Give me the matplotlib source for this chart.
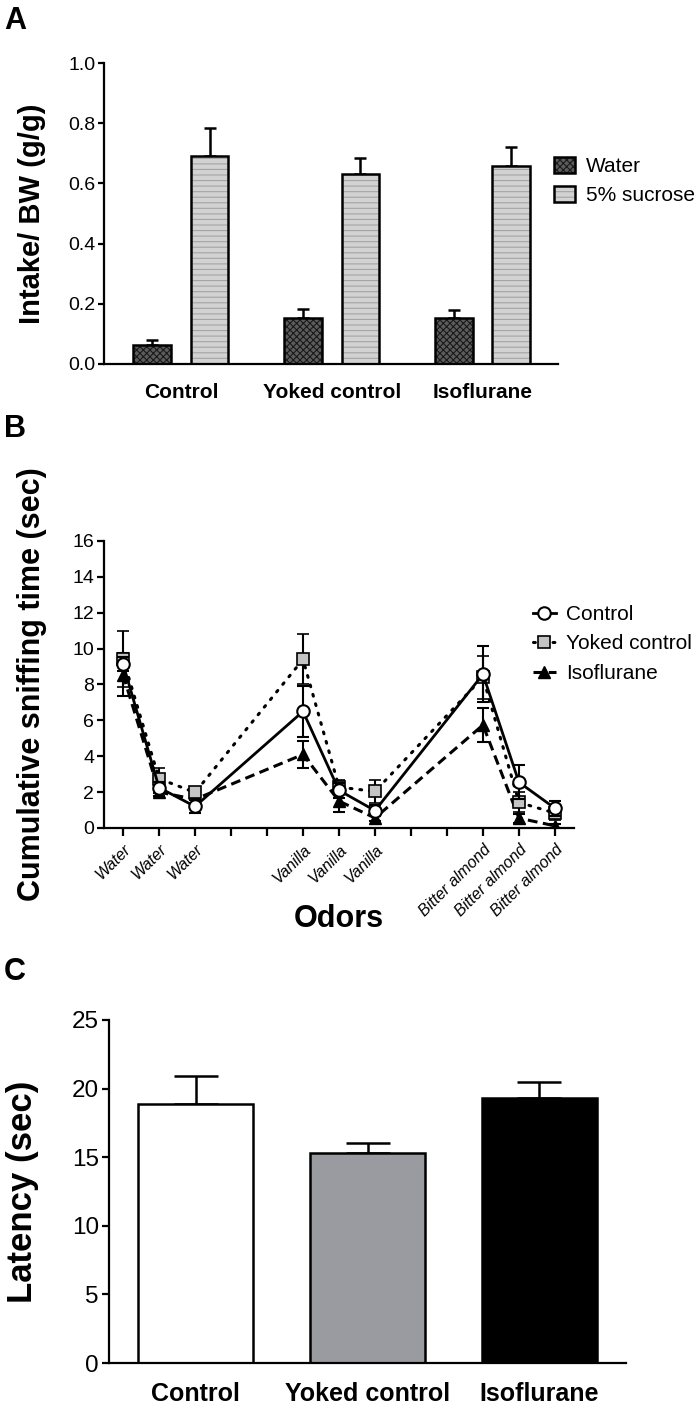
import numpy as np
import matplotlib
matplotlib.use('Agg')
import matplotlib.pyplot as plt
from matplotlib.lines import Line2D

plt.rcParams['font.family'] = ['Liberation Sans', 'DejaVu Sans']
plt.rcParams['hatch.linewidth'] = 0.8

# panel A data
groups_a = ['Control', 'Yoked control', 'Isoflurane']
water = [0.063, 0.154, 0.154]
water_err = [0.017, 0.028, 0.027]
sucrose = [0.690, 0.632, 0.657]
sucrose_err = [0.093, 0.054, 0.063]

# panel B data
odor_labels = ['Water', 'Water', 'Water', '', '', 'Vanilla', 'Vanilla', 'Vanilla',
               '', '', 'Bitter almond', 'Bitter almond', 'Bitter almond']
odor_pos = [0, 1, 2, 5, 6, 7, 10, 11, 12]
ctrl_b = [9.14, 2.25, 1.2, 6.5, 2.1, 0.97, 8.57, 2.55, 1.1]
ctrl_b_err = [0.4, 0.3, 0.36, 1.4, 0.4, 0.3, 1.55, 0.95, 0.42]
yoked_b = [9.44, 2.75, 1.98, 9.4, 2.28, 2.04, 8.4, 1.43, 0.83]
yoked_b_err = [1.56, 0.6, 0.3, 1.4, 0.37, 0.65, 1.2, 0.55, 0.4]
iso_b = [8.54, 2.0, 1.6, 4.1, 1.5, 0.56, 5.74, 0.55, 0.12]
iso_b_err = [1.2, 0.2, 0.3, 0.75, 0.6, 0.15, 0.95, 0.25, 0.12]

# panel C data
groups_c = ['Control', 'Yoked control', 'Isoflurane']
latency = [18.9, 15.3, 19.3]
latency_err = [2.05, 0.77, 1.2]
colors_c = ['white', '#999ba0', 'black']

fig = plt.figure(figsize=(7, 14.08), dpi=100)
W, H = 700, 1408


def box(l, t, r, b):
    return [l / W, 1 - b / H, (r - l) / W, (b - t) / H]


def clean(ax):
    ax.spines['top'].set_visible(False)
    ax.spines['right'].set_visible(False)
    ax.spines['left'].set_linewidth(1.6)
    ax.spines['bottom'].set_linewidth(1.6)


# ---------------- A ----------------
ax1 = fig.add_axes(box(104, 63, 558, 364))
clean(ax1)
x = np.arange(len(groups_a))
bw = 0.25
off = 0.19
zero = [0, 0, 0]
ax1.errorbar(x - off, water, yerr=[zero, water_err], fmt='none', ecolor='black',
             elinewidth=1.8, capsize=4.5, capthick=1.8, zorder=1)
ax1.errorbar(x + off, sucrose, yerr=[zero, sucrose_err], fmt='none', ecolor='black',
             elinewidth=1.8, capsize=4.5, capthick=1.8, zorder=1)
w_fill = ax1.bar(x - off, water, bw, color='#5c5c5c', edgecolor='#1a1a1a', hatch='xxxxx',
                 linewidth=0, zorder=2)
w_line = ax1.bar(x - off, water, bw, fill=False, edgecolor='black', linewidth=1.8, zorder=3)
s_fill = ax1.bar(x + off, sucrose, bw, color='#d2d2d2', edgecolor='#a4a4a4', hatch='---',
                 linewidth=0, zorder=2)
s_line = ax1.bar(x + off, sucrose, bw, fill=False, edgecolor='black', linewidth=1.8, zorder=3)
ax1.set_xlim(-0.51, 2.5)
ax1.set_ylim(0, 1.0)
ax1.set_yticks([0, 0.2, 0.4, 0.6, 0.8, 1.0])
ax1.set_yticklabels(['0.0', '0.2', '0.4', '0.6', '0.8', '1.0'])
ax1.set_xticks(x)
ax1.set_xticklabels(groups_a, fontweight='bold', fontsize=15)
ax1.tick_params(axis='x', length=0, pad=14)
ax1.tick_params(axis='y', labelsize=14, length=4, width=1.6, pad=2)
ax1.set_ylabel('Intake/ BW (g/g)', fontsize=21, fontweight='bold')
ax1.yaxis.set_label_coords(-0.128, 0.5)
fig.legend([(w_fill[0], w_line[0]), (s_fill[0], s_line[0])], ['Water', '5% sucrose'],
           loc='center left', bbox_to_anchor=(554 / W, 1 - 181 / H), frameon=False,
           fontsize=15, handlelength=1.0, handleheight=0.8, handletextpad=0.55,
           labelspacing=0.45, borderpad=0, borderaxespad=0)

# ---------------- B ----------------
ax2 = fig.add_axes(box(104, 541, 574, 828))
clean(ax2)
iso_style = dict(color='black', lw=2.2, linestyle=(0, (3.2, 1.8)), marker='^',
                 markersize=8, mfc='black', mec='black')
yoked_style = dict(color='black', lw=2.2, linestyle=(0, (0.6, 2.6)), dash_capstyle='round',
                   marker='s', markersize=8, mfc='#c4c4c4', mec='black', mew=1.2)
ctrl_style = dict(color='black', lw=2.0, linestyle='-', marker='o', markersize=9,
                  mfc='white', mec='black', mew=1.5)
eb = dict(ecolor='black', elinewidth=1.5, capsize=4, capthick=1.5)
ax2.errorbar(odor_pos, iso_b, yerr=iso_b_err, zorder=2, **iso_style, **eb)
ax2.errorbar(odor_pos, yoked_b, yerr=yoked_b_err, zorder=3, **yoked_style, **eb)
ax2.errorbar(odor_pos, ctrl_b, yerr=ctrl_b_err, zorder=4, **ctrl_style, **eb)
ax2.set_xlim(-0.53, 12.53)
ax2.set_ylim(0, 16)
ax2.set_yticks(range(0, 17, 2))
ax2.set_xticks(range(len(odor_labels)))
ax2.set_xticklabels(odor_labels, rotation=45, ha='right', rotation_mode='anchor',
                    fontstyle='italic', fontsize=11.5)
ax2.tick_params(axis='x', length=6, width=1.6, pad=4)
ax2.tick_params(axis='y', labelsize=14, length=5, width=1.6, pad=2)
ax2.set_ylabel('Cumulative sniffing time (sec)', fontsize=22, fontweight='bold')
ax2.yaxis.set_label_coords(-0.121, 0.5)
ax2.set_xlabel('Odors', fontsize=22, fontweight='bold', va='center')
ax2.xaxis.set_label_coords(0.5, -0.317)
handles_b = [Line2D([], [], **ctrl_style), Line2D([], [], **yoked_style),
             Line2D([], [], **iso_style)]
fig.legend(handles_b, ['Control', 'Yoked control', 'Isoflurane'], loc='center left',
           bbox_to_anchor=(533 / W, 1 - 644 / H), frameon=False, fontsize=15,
           handlelength=1.1, handletextpad=0.5, labelspacing=0.5, borderpad=0,
           borderaxespad=0, numpoints=1)

# ---------------- C ----------------
ax3 = fig.add_axes(box(108.5, 1020, 626, 1363))
clean(ax3)
xc = np.arange(len(groups_c))
ax3.errorbar(xc, latency, yerr=[[0, 0, 0], latency_err], fmt='none', ecolor='black',
             elinewidth=1.8, capsize=16, capthick=1.8, zorder=1)
ax3.bar(xc, latency, 0.67, color=colors_c, edgecolor='black', linewidth=1.8, zorder=2)
ax3.set_xlim(-0.506, 2.503)
ax3.set_ylim(0, 25)
ax3.set_yticks(range(0, 26, 5))
ax3.set_xticks(xc)
ax3.set_xticklabels(groups_c, fontweight='bold', fontsize=18)
ax3.tick_params(axis='x', length=0, pad=14)
ax3.tick_params(axis='y', labelsize=17.5, length=5, width=1.6, pad=2)
ax3.set_ylabel('Latency (sec)', fontsize=25, fontweight='bold')
ax3.yaxis.set_label_coords(-0.134, 0.5)

# panel letters
for letter, top in [('A', 6), ('B', 414), ('C', 957)]:
    fig.text(4 / W, 1 - top / H, letter, fontsize=22, fontweight='bold', va='top', ha='left')

fig.savefig('out.png', dpi=100)
